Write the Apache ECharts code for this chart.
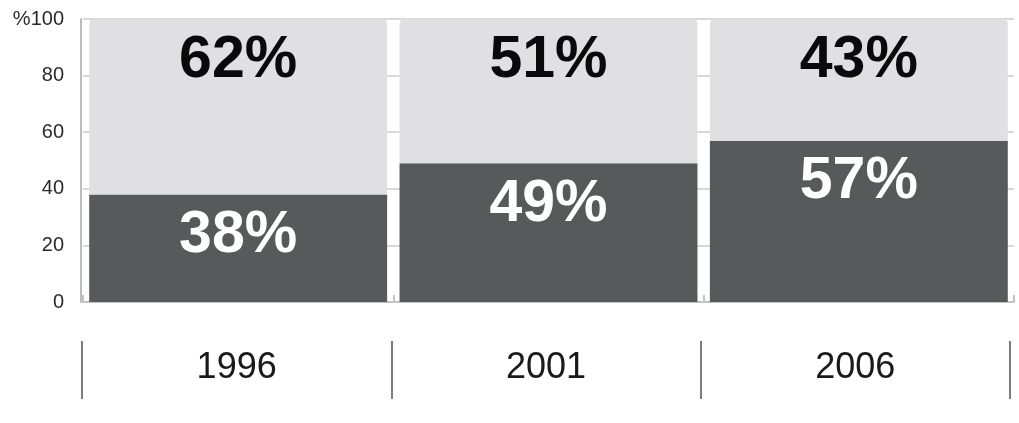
<!DOCTYPE html>
<html>
<head>
<meta charset="utf-8">
<script src="https://cdn.jsdelivr.net/npm/echarts@6/dist/echarts.min.js"></script>
<style>
html,body{margin:0;padding:0;background:#fff;}
#chart{width:1019px;height:423px;}
</style>
</head>
<body>
<div id="chart"></div>
<script>
var categories = ['1996', '2001', '2006'];
var shareLower = [38, 49, 57];
var shareUpper = [62, 51, 43];
var yTicks = [0, 20, 40, 60, 80, 100];

var FONT = '"Liberation Sans", Arial, Helvetica, sans-serif';
var chart = echarts.init(document.getElementById('chart'), null, {renderer: 'canvas'});

chart.setOption({
  animation: false,
  backgroundColor: '#ffffff',
  grid: [
    {left: 83, right: 5, top: 19, bottom: 121, containLabel: false},
    {left: 82, right: 9, top: 341, height: 58, containLabel: false}
  ],
  xAxis: [
    {
      type: 'category', gridIndex: 0, data: categories,
      axisLine: {show: true, lineStyle: {color: '#c4c4c4', width: 2}},
      axisTick: {show: true, inside: true, length: 7, lineStyle: {color: '#c4c4c4', width: 2}},
      axisLabel: {show: false},
      splitLine: {show: false}
    },
    {
      type: 'category', gridIndex: 1, data: categories,
      axisLine: {show: false},
      axisTick: {show: false},
      axisLabel: {show: true, inside: true, margin: 13, fontSize: 36, color: '#1a1a1a', fontFamily: FONT},
      splitLine: {show: true, lineStyle: {color: '#7d7d7f', width: 2}}
    }
  ],
  yAxis: [
    {
      type: 'value', gridIndex: 0, min: 0, max: 100, interval: 20, offset: 2,
      axisLine: {show: true, lineStyle: {color: '#bdbdbd', width: 2}},
      axisTick: {show: false},
      axisLabel: {
        show: true, margin: 17, fontSize: 20, color: '#2a2a2a', fontFamily: FONT,
        formatter: function (v) { return v === yTicks[yTicks.length - 1] ? '%' + v : String(v); }
      },
      splitLine: {show: true, lineStyle: {color: '#cbcbcb', width: 1.5}}
    },
    {
      type: 'value', gridIndex: 1, min: 0, max: 1,
      axisLine: {show: false}, axisTick: {show: false}, axisLabel: {show: false}, splitLine: {show: false}
    }
  ],
  series: [
    {
      type: 'bar', xAxisIndex: 0, yAxisIndex: 0, stack: 'share',
      data: shareLower, barCategoryGap: '4%',
      itemStyle: {color: '#58595b'},
      label: {
        show: true, position: 'insideTop', distance: 12,
        formatter: '{c}%', fontSize: 59, fontWeight: 'bold', color: '#ffffff', fontFamily: FONT
      }
    },
    {
      type: 'bar', xAxisIndex: 0, yAxisIndex: 0, stack: 'share',
      data: shareUpper, barCategoryGap: '4%',
      itemStyle: {color: '#e0e0e2', borderRadius: [5, 5, 0, 0]},
      label: {
        show: true, position: 'insideTop', distance: 12,
        formatter: '{c}%', fontSize: 59, fontWeight: 'bold', color: '#0a0a0a', fontFamily: FONT
      }
    }
  ]
});
</script>
</body>
</html>
